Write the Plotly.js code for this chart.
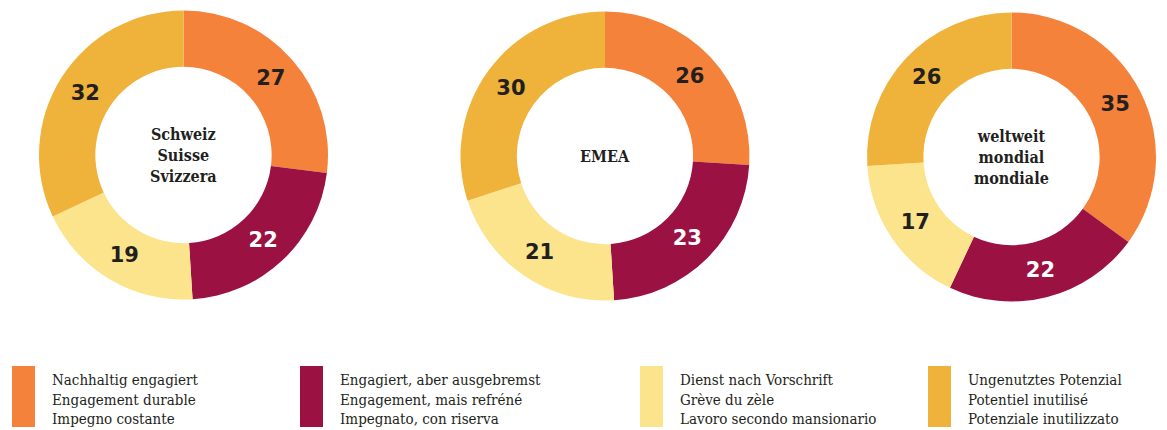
<!DOCTYPE html>
<html>
<head>
<meta charset="utf-8">
<script src="https://cdn.plot.ly/plotly-3.0.1.min.js"></script>
<style>html,body{margin:0;padding:0;background:#fff;}#chart{width:1167px;height:430px;}</style>
</head>
<body>
<div id="chart"></div>
<script>
const categoriesDE = ["Nachhaltig engagiert", "Engagiert, aber ausgebremst", "Dienst nach Vorschrift", "Ungenutztes Potenzial"];
const categoriesFR = ["Engagement durable", "Engagement, mais refréné", "Grève du zèle", "Potentiel inutilisé"];
const categoriesIT = ["Impegno costante", "Impegnato, con riserva", "Lavoro secondo mansionario", "Potenziale inutilizzato"];
const regionNames = ["Schweiz<br>Suisse<br>Svizzera", "EMEA", "weltweit<br>mondial<br>mondiale"];
const valuesSchweiz = [27, 22, 19, 32];
const valuesEMEA = [26, 23, 21, 30];
const valuesWeltweit = [35, 22, 17, 26];

const colors = ["#F5823A", "#9B1142", "#FBE48C", "#EFB33B"];
const textColors = ["#231f20", "#ffffff", "#231f20", "#231f20"];
const W = 1167, H = 430;
const serif = "'DejaVu Serif Condensed', 'DejaVu Serif', serif";

const centers = [[183.5, 155], [605, 156], [1011.5, 157]];
const R = 144.5;
const series = [valuesSchweiz, valuesEMEA, valuesWeltweit];

const traces = series.map((vals, i) => {
  const [cx, cy] = centers[i];
  return {
    type: 'pie',
    values: vals,
    labels: categoriesDE,
    sort: false,
    direction: 'clockwise',
    rotation: 0,
    hole: 0.61,
    marker: {colors: colors, line: {width: 0}},
    textinfo: 'value',
    textposition: 'inside',
    insidetextorientation: 'horizontal',
    textfont: {family: "'DejaVu Sans', sans-serif", size: 21, color: textColors, weight: 'bold'},
    showlegend: false,
    hoverinfo: 'label+value',
    domain: {x: [(cx - R) / W, (cx + R) / W], y: [1 - (cy + R) / H, 1 - (cy - R) / H]}
  };
});

const annotations = regionNames.map((t, i) => ({
  xref: 'paper', yref: 'paper',
  x: centers[i][0] / W, y: 1 - centers[i][1] / H,
  xanchor: 'center', yanchor: 'middle',
  text: '<b>' + t + '</b>', showarrow: false, align: 'center',
  font: {family: serif, size: 16, color: '#231f20'}
}));

const legendX = [12, 300, 640, 928];
const shapes = [];
categoriesDE.forEach((c, i) => {
  shapes.push({type: 'rect', xref: 'paper', yref: 'paper',
    x0: legendX[i] / W, x1: (legendX[i] + 23) / W,
    y0: 1 - 427 / H, y1: 1 - 366 / H,
    fillcolor: colors[i], line: {width: 0}});
  annotations.push({
    xref: 'paper', yref: 'paper',
    x: (legendX[i] + 38) / W, y: 1 - 399 / H,
    xanchor: 'left', yanchor: 'middle', align: 'left', showarrow: false,
    text: categoriesDE[i] + '<br>' + categoriesFR[i] + '<br>' + categoriesIT[i],
    font: {family: serif, size: 15, color: '#231f20'}
  });
});

Plotly.newPlot('chart', traces, {
  width: W, height: H,
  margin: {l: 0, r: 0, t: 0, b: 0},
  paper_bgcolor: '#fff',
  annotations: annotations,
  shapes: shapes
}, {displayModeBar: false, staticPlot: true});
</script>
</body>
</html>
